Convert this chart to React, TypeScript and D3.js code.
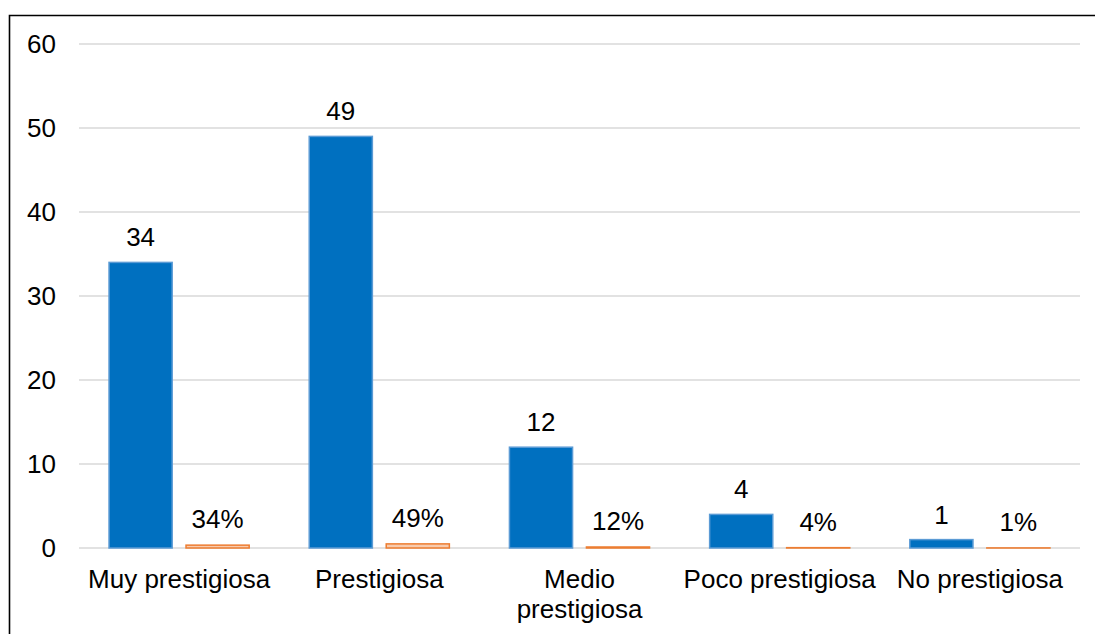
import React from "react";
import * as d3 from "d3";

const categories = ["Muy prestigiosa", "Prestigiosa", "Medio prestigiosa", "Poco prestigiosa", "No prestigiosa"];
const categoryLines = [["Muy prestigiosa"], ["Prestigiosa"], ["Medio", "prestigiosa"], ["Poco prestigiosa"], ["No prestigiosa"]];
const counts = [34, 49, 12, 4, 1];
const percents = [0.34, 0.49, 0.12, 0.04, 0.01];
const percentLabels = ["34%", "49%", "12%", "4%", "1%"];
const yTicks = [0, 10, 20, 30, 40, 50, 60];
const seriesKeys = ["count", "pct"];

const W = 1095;
const H = 634;
const left = 79;
const right = 1080;
const top = 44;
const bottom = 548;
const FONT = "'Liberation Sans', Arial, sans-serif";
const FS = 26;

export default function App() {
  const x = d3.scaleBand<string>().domain(categories).range([left, right]).paddingInner(0.3).paddingOuter(0.15);
  const xs = d3.scaleBand<string>().domain(seriesKeys).range([0, x.bandwidth()]).paddingInner(0.18);
  const y = d3.scaleLinear().domain([0, 60]).range([bottom, top]);

  return (
    <svg width={W} height={H} style={{ position: "absolute", left: 0, top: 0, background: "#fff" }} fontFamily={FONT}>
      <rect x={0} y={0} width={W} height={H} fill="#fff" />
      <path d={`M9.5,${H} V15.5 H${W}`} fill="none" stroke="#000" strokeWidth={1.6} />
      {yTicks.map((t) => (
        <g key={t}>
          <line x1={left} x2={right} y1={y(t)} y2={y(t)} stroke="#D9D9D9" strokeWidth={1.5} />
          <text x={56} y={y(t)} dy="0.35em" textAnchor="end" fontSize={FS} fill="#000">{t}</text>
        </g>
      ))}
      {categories.map((c, i) => {
        const bx = x(c)!;
        const x0 = bx + xs("count")!;
        const x1 = bx + xs("pct")!;
        const bw = xs.bandwidth();
        return (
          <g key={c}>
            <rect x={x0} y={y(counts[i])} width={bw} height={bottom - y(counts[i])} fill="#0070C0" stroke="#5B9BD5" strokeWidth={1.5} />
            <rect x={x1} y={y(percents[i])} width={bw} height={Math.max(0, bottom - y(percents[i]))} fill="#F8CBAD" stroke="#ED7D31" strokeWidth={1.5} />
            <text x={x0 + bw / 2} y={y(counts[i]) - 16} textAnchor="middle" fontSize={FS} fill="#000">{counts[i]}</text>
            <text x={x1 + bw / 2} y={y(percents[i]) - 17} textAnchor="middle" fontSize={FS} fill="#000">{percentLabels[i]}</text>
            <text x={bx + x.bandwidth() / 2} y={588} textAnchor="middle" fontSize={FS} fill="#000">
              {categoryLines[i].map((l, j) => (
                <tspan key={j} x={bx + x.bandwidth() / 2} dy={j === 0 ? 0 : 30}>{l}</tspan>
              ))}
            </text>
          </g>
        );
      })}
    </svg>
  );
}
